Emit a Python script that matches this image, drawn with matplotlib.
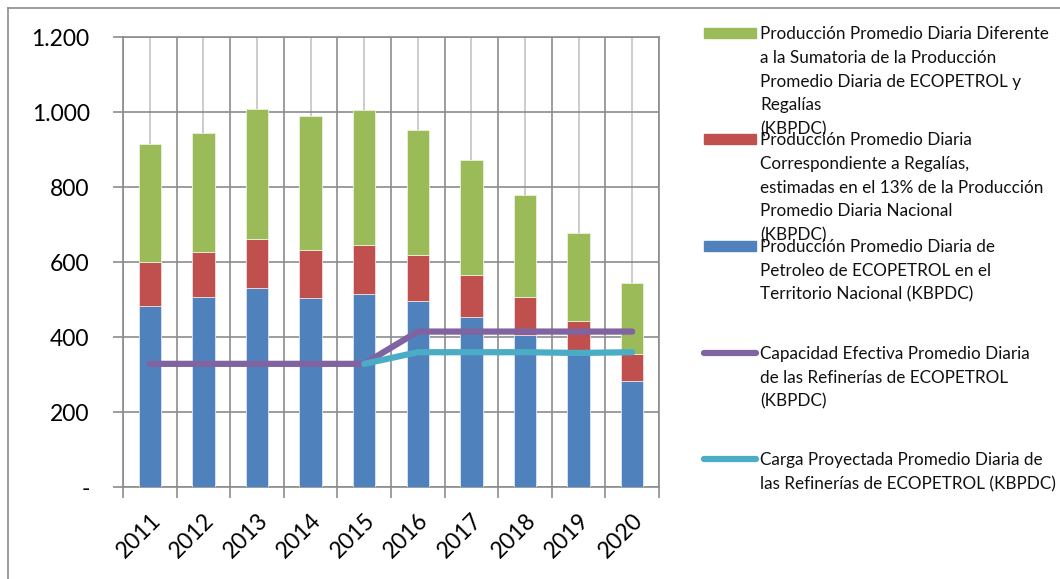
import numpy as np
import matplotlib
matplotlib.use("Agg")
from matplotlib import pyplot as plt
from matplotlib.lines import Line2D
from matplotlib.patches import Rectangle
from matplotlib.ticker import FuncFormatter

####################################################

# Data (KBPDC)

years = ["2011", "2012", "2013", "2014", "2015", "2016", "2017", "2018", "2019", "2020"]
ecopetrol = [482, 507, 530, 504, 515, 497, 454, 406, 354, 283]
regalias = [118, 121, 131, 129, 131, 122, 113, 101, 88, 72]
otros = [315, 316, 348, 357, 360, 332, 305, 272, 237, 190]
capacidad = [329, 329, 329, 329, 329, 415, 415, 415, 415, 415]
carga = [None, None, None, None, 329, 360, 360, 360, 358, 360]

labels = [
    "Producción Promedio Diaria Diferente\na la Sumatoria de la Producción\nPromedio Diaria de ECOPETROL y\nRegalías\n(KBPDC)",
    "Producción Promedio Diaria\nCorrespondiente a Regalías,\nestimadas en el 13% de la Producción\nPromedio Diaria Nacional\n(KBPDC)",
    "Producción Promedio Diaria de\nPetroleo de ECOPETROL en el\nTerritorio Nacional (KBPDC)",
    "Capacidad Efectiva Promedio Diaria\nde las Refinerías de ECOPETROL\n(KBPDC)",
    "Carga Proyectada Promedio Diaria de\nlas Refinerías de ECOPETROL (KBPDC)",
]

####################################################

green = "#9bbb59"
red = "#c0504d"
blue = "#4f81bd"
purple = "#8064a2"
cyan = "#4bacc6"
grid_dark = "#8c8c8c"
grid_light = "#c4c4c4"

plt.rcParams["font.family"] = ["Lato", "DejaVu Sans"]

W, H = 1060, 579
fig = plt.figure(figsize=(W / 100, H / 100), dpi=100)
ax = fig.add_axes([123 / W, 1 - 487.3 / H, (659 - 123) / W, (487.3 - 37) / H])

x = np.arange(len(years))
bot2 = np.array(ecopetrol) + np.array(regalias)
bw = 0.42
ax.bar(x, ecopetrol, bw, color=blue, edgecolor="#dce6f2", linewidth=0.6, zorder=3)
ax.bar(x, regalias, bw, bottom=ecopetrol, color=red, edgecolor="#f2dcdb", linewidth=0.6, zorder=3)
ax.bar(x, otros, bw, bottom=bot2, color=green, edgecolor="#ebf1de", linewidth=0.6, zorder=3)

cap = np.array(capacidad, dtype=float)
car = np.array([np.nan if v is None else v for v in carga], dtype=float)
ax.plot(x, cap, color=purple, lw=4.5, solid_capstyle="round", zorder=4)
ax.plot(x, car, color=cyan, lw=4.5, solid_capstyle="round", zorder=5)

ax.set_xlim(-0.5, len(years) - 0.5)
ax.set_ylim(0, 1200)
ax.set_yticks(np.arange(0, 1201, 200))
ax.yaxis.set_major_formatter(FuncFormatter(
    lambda v, p: "-" if v == 0 else f"{int(v):,}".replace(",", ".")))

# category boundaries as major ticks, labels at centres
ax.set_xticks(np.arange(-0.5, len(years), 1.0))
ax.set_xticklabels([])
ax.set_xticks(x, minor=True)
ax.set_xticklabels(years, minor=True, rotation=45, ha="right", va="top",
                   rotation_mode="anchor", fontsize=16.5)
ax.tick_params(axis="x", which="minor", length=0, pad=16)
ax.tick_params(axis="x", which="major", length=8, color=grid_dark, width=1.2)
ax.tick_params(axis="y", length=7, color=grid_dark, width=1.2, labelsize=16.5, pad=17)

ax.grid(True, axis="y", which="major", color=grid_dark, lw=1.2, zorder=0)
ax.grid(True, axis="x", which="major", color=grid_dark, lw=1.2, zorder=0)
ax.grid(True, axis="x", which="minor", color=grid_light, lw=1.2, zorder=0)
ax.set_axisbelow(True)
for s in ax.spines.values():
    s.set_color(grid_dark)
    s.set_linewidth(1.2)

# legend on the right
handles = [("patch", green), ("patch", red), ("patch", blue), ("line", purple), ("line", cyan)]
key_y = [33, 139, 246, 353, 459]
for (kind, col), lab, ky in zip(handles, labels, key_y):
    if kind == "patch":
        fig.add_artist(Rectangle((704 / W, 1 - (ky + 5) / H), 52 / W, 10 / H,
                                 transform=fig.transFigure, color=col))
    else:
        fig.add_artist(Line2D([704 / W, 756 / W], [1 - ky / H, 1 - ky / H],
                              transform=fig.transFigure, color=col, lw=4.5,
                              solid_capstyle="round"))
    fig.text(760 / W, 1 - (ky - 7) / H, lab, fontsize=12.3, va="top", ha="left",
             linespacing=1.6, color="#111111")

# outer frame (left and top edges)
fig.add_artist(Line2D([8 / W, 8 / W], [0, 1 - 8 / H], transform=fig.transFigure,
                      color="#8c8c8c", lw=1.2))
fig.add_artist(Line2D([8 / W, 1], [1 - 8 / H, 1 - 8 / H], transform=fig.transFigure,
                      color="#8c8c8c", lw=1.2))

fig.savefig("out.png", dpi=100)
